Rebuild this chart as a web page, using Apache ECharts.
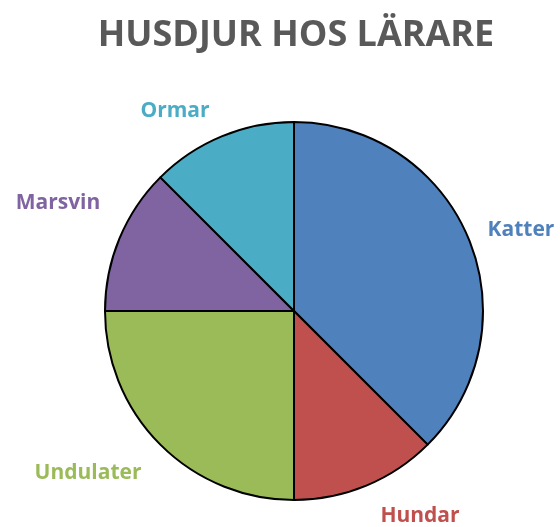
<!DOCTYPE html>
<html><head><meta charset="utf-8">
<script src="https://cdn.jsdelivr.net/npm/echarts@6/dist/echarts.min.js"></script>
<style>html,body{margin:0;padding:0;background:#fff}#c{width:560px;height:527px}</style>
</head><body><div id="c"></div>
<script>
const categories = ['Katter', 'Hundar', 'Undulater', 'Marsvin', 'Ormar'];
const values = [3, 1, 2, 1, 1];
const colors = ['#4F81BD', '#C0504D', '#9BBB59', '#8064A2', '#4BACC6'];
const labelPos = [[521, 230], [420, 516], [88, 473], [58, 203], [175, 111]];

const chart = echarts.init(document.getElementById('c'));
chart.setOption({
  animation: false,
  title: {
    text: 'HUSDJUR HOS LÄRARE',
    left: 291, top: 13, textAlign: 'center',
    textStyle: { fontFamily: 'Open Sans', fontWeight: 'bold', fontSize: 36, color: '#595959' }
  },
  series: [{
    type: 'pie',
    center: [294, 311],
    radius: 189,
    startAngle: 90,
    clockwise: true,
    data: categories.map((c, i) => ({ name: c, value: values[i], itemStyle: { color: colors[i] }, label: { color: colors[i] } })),
    itemStyle: { borderColor: '#000', borderWidth: 2 },
    label: { show: true, position: 'outside', overflow: 'none', width: 200, fontFamily: 'Open Sans', fontWeight: 'bold', fontSize: 21 },
    labelLine: { show: false },
    labelLayout: (p) => ({ x: labelPos[p.dataIndex][0], y: labelPos[p.dataIndex][1], align: 'center', verticalAlign: 'middle' }),
    emphasis: { disabled: true }
  }]
});
</script></body></html>
